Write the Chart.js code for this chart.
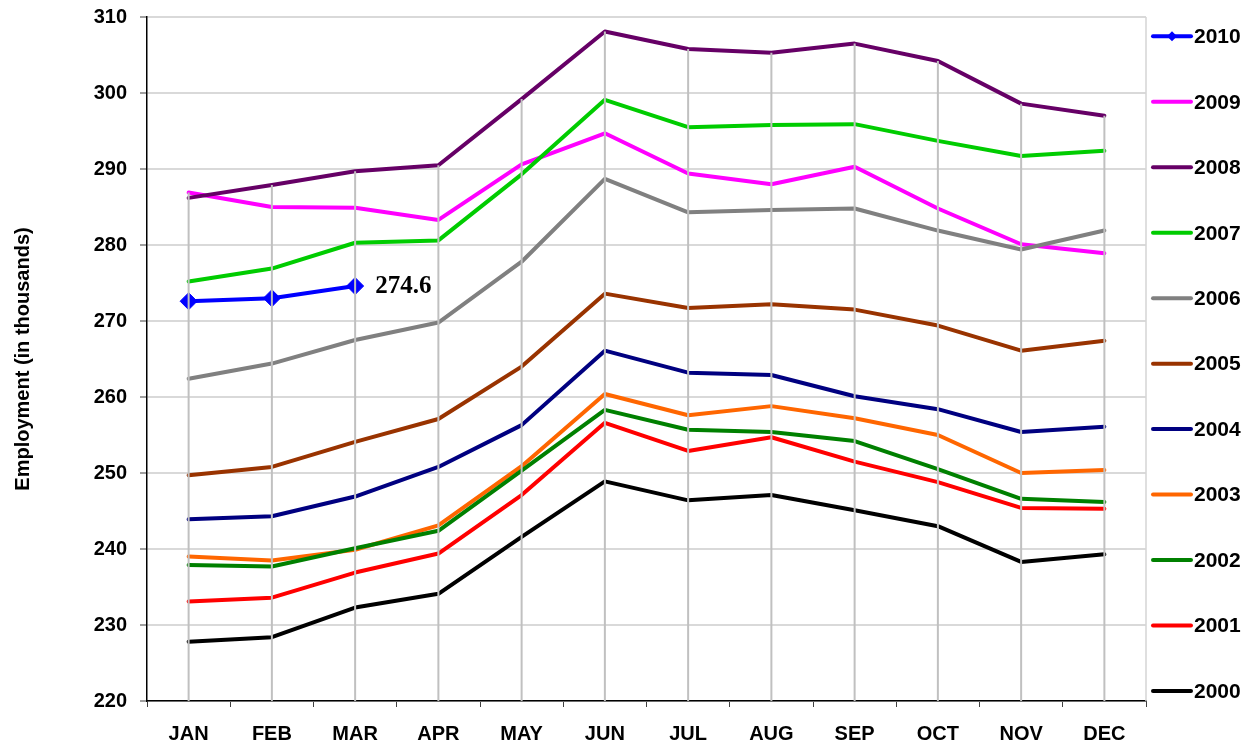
<!DOCTYPE html>
<html>
<head>
<meta charset="utf-8">
<script src="https://cdn.jsdelivr.net/npm/chart.js@4/dist/chart.umd.min.js"></script>
<style>
  html, body { margin: 0; padding: 0; background: #fff; }
  #wrap { width: 1252px; height: 746px; }
</style>
</head>
<body>
<div id="wrap"><canvas id="chart" width="1252" height="746"></canvas></div>
<script>
// months on the x axis
const months = ["JAN", "FEB", "MAR", "APR", "MAY", "JUN", "JUL", "AUG", "SEP", "OCT", "NOV", "DEC"];

// employment, in thousands
const y2010 = [272.6, 273.0, 274.6];
const y2009 = [286.9, 285.0, 284.9, 283.3, 290.6, 294.7, 289.4, 288.0, 290.3, 284.8, 280.1, 278.9];
const y2008 = [286.2, 287.9, 289.7, 290.5, 299.2, 308.1, 305.8, 305.3, 306.5, 304.2, 298.6, 297.0];
const y2007 = [275.2, 276.9, 280.3, 280.6, 289.3, 299.1, 295.5, 295.8, 295.9, 293.7, 291.7, 292.4];
const y2006 = [262.4, 264.4, 267.5, 269.8, 277.8, 288.7, 284.3, 284.6, 284.8, 281.9, 279.4, 281.9];
const y2005 = [249.7, 250.8, 254.1, 257.1, 264.0, 273.6, 271.7, 272.2, 271.5, 269.4, 266.1, 267.4];
const y2004 = [243.9, 244.3, 246.9, 250.8, 256.3, 266.1, 263.2, 262.9, 260.1, 258.4, 255.4, 256.1];
const y2003 = [239.0, 238.5, 239.9, 243.1, 250.9, 260.4, 257.6, 258.8, 257.2, 255.0, 250.0, 250.4];
const y2002 = [237.9, 237.7, 240.1, 242.4, 250.3, 258.3, 255.7, 255.4, 254.2, 250.5, 246.6, 246.2];
const y2001 = [233.1, 233.6, 236.9, 239.4, 247.1, 256.6, 252.9, 254.7, 251.5, 248.8, 245.4, 245.3];
const y2000 = [227.8, 228.4, 232.3, 234.1, 241.6, 248.9, 246.4, 247.1, 245.1, 243.0, 238.3, 239.3];

const years = ["2010", "2009", "2008", "2007", "2006", "2005", "2004", "2003", "2002", "2001", "2000"];
const series = [y2010, y2009, y2008, y2007, y2006, y2005, y2004, y2003, y2002, y2001, y2000];
const colors = ["#0000ff", "#ff00ff", "#660066", "#00cc00", "#808080", "#993300", "#000080", "#ff6600", "#008000", "#ff0000", "#000000"];

// y axis ticks
const yMin = 220;
const yMax = 310;
const yStep = 10;

const FONT = "'Liberation Sans', Arial, sans-serif";

const datasets = series.map((data, i) => ({
    label: years[i],
    data: data,
    borderColor: colors[i],
    backgroundColor: colors[i],
    borderWidth: 4,
    borderCapStyle: "round",
    borderJoinStyle: "round",
    tension: 0,
    // later years drawn underneath, 2000 on top (as in the picture)
    order: series.length - 1 - i,
    pointStyle: i === 0 ? "rectRot" : "circle",
    pointRadius: i === 0 ? 8.5 : 0,
    pointHoverRadius: i === 0 ? 8.5 : 0,
    pointBorderWidth: 1,
    pointBackgroundColor: colors[i]
}));

// plot border, drop lines, value label and the side legend
const extras = {
    id: "extras",
    beforeDatasetsDraw(chart) {
        const { ctx, chartArea: a } = chart;
        ctx.save();
        ctx.strokeStyle = "#d4d4d4";
        ctx.lineWidth = 1.5;
        ctx.beginPath();
        ctx.moveTo(a.right, a.top);
        ctx.lineTo(a.right, a.bottom);
        ctx.stroke();
        ctx.restore();
    },
    afterDatasetsDraw(chart) {
        const { ctx, chartArea: a, scales: { x, y } } = chart;
        ctx.save();
        // drop lines from the highest point of each month
        ctx.strokeStyle = "#c0c0c0";
        ctx.lineWidth = 2;
        months.forEach((m, i) => {
            let top = -Infinity;
            series.forEach(s => { if (s[i] != null && s[i] > top) top = s[i]; });
            const px = x.getPixelForValue(i);
            ctx.beginPath();
            ctx.moveTo(px, y.getPixelForValue(top));
            ctx.lineTo(px, a.bottom);
            ctx.stroke();
        });

        // last value of 2010
        const meta = chart.getDatasetMeta(0);
        const last = meta.data[meta.data.length - 1];
        ctx.fillStyle = "#000";
        ctx.font = "bold 25px 'Liberation Serif', 'Times New Roman', serif";
        ctx.textAlign = "left";
        ctx.textBaseline = "middle";
        ctx.fillText(y2010[y2010.length - 1].toFixed(1), last.x + 20, last.y + 1);
        ctx.restore();
    },
    afterDraw(chart) {
        const { ctx, chartArea: a } = chart;
        const x0 = a.right + 7;
        const top = a.top + 19.3;
        const step = (a.bottom - 10 - top) / (years.length - 1);
        ctx.save();
        years.forEach((yr, i) => {
            const yy = top + i * step;
            ctx.strokeStyle = colors[i];
            ctx.lineWidth = 4;
            ctx.lineCap = "round";
            ctx.beginPath();
            ctx.moveTo(x0, yy);
            ctx.lineTo(x0 + 38, yy);
            ctx.stroke();
            if (i === 0) {
                ctx.fillStyle = colors[i];
                ctx.beginPath();
                ctx.moveTo(x0 + 19, yy - 5);
                ctx.lineTo(x0 + 24, yy);
                ctx.lineTo(x0 + 19, yy + 5);
                ctx.lineTo(x0 + 14, yy);
                ctx.closePath();
                ctx.fill();
            }
            ctx.fillStyle = "#000";
            ctx.font = "bold 21px " + FONT;
            ctx.textAlign = "left";
            ctx.textBaseline = "middle";
            ctx.fillText(yr, x0 + 41, yy + 1);
        });
        ctx.restore();
    }
};

new Chart(document.getElementById("chart"), {
    type: "line",
    data: { labels: months, datasets: datasets },
    plugins: [extras],
    options: {
        responsive: false,
        animation: false,
        devicePixelRatio: 1,
        layout: { padding: { top: 17, right: 106, bottom: 0, left: 0 } },
        plugins: {
            legend: { display: false },
            tooltip: { enabled: false }
        },
        scales: {
            x: {
                type: "category",
                offset: true,
                afterFit: (s) => { s.height = 45; },
                grid: {
                    offset: true,
                    drawOnChartArea: false,
                    drawTicks: true,
                    tickLength: 6,
                    tickColor: "#404040",
                    tickWidth: 1
                },
                border: { display: true, color: "#000", width: 1.5 },
                ticks: {
                    color: "#000",
                    padding: 15,
                    maxRotation: 0,
                    font: { family: FONT, size: 20, weight: "bold" }
                }
            },
            y: {
                min: yMin,
                max: yMax,
                afterFit: (s) => { s.width = 147; s.paddingTop = 0; s.paddingBottom = 0; },
                grid: {
                    color: "#d9d9d9",
                    lineWidth: 2,
                    drawTicks: true,
                    tickLength: 7,
                    tickColor: "#808080",
                    tickWidth: 1.5
                },
                border: { display: true, color: "#000", width: 1.5 },
                ticks: {
                    stepSize: yStep,
                    color: "#000",
                    padding: 13,
                    font: { family: FONT, size: 20, weight: "bold" }
                },
                title: {
                    display: true,
                    text: "Employment (in thousands)",
                    color: "#000",
                    padding: { top: 11, bottom: 0 },
                    font: { family: FONT, size: 20, weight: "bold" }
                }
            }
        }
    }
});
</script>
</body>
</html>
